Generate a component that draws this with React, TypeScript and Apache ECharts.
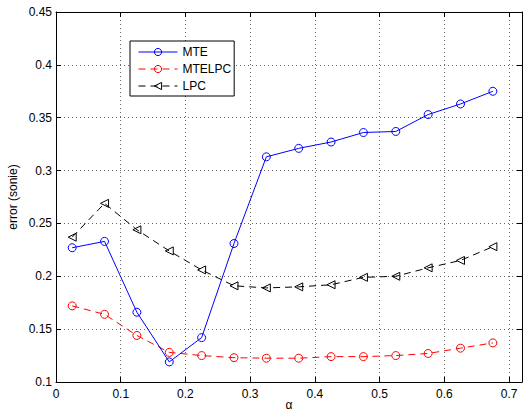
import React, { useEffect, useRef } from "react";
import * as echarts from "echarts";

const alphas = [0.025, 0.075, 0.125, 0.175, 0.225, 0.275, 0.325, 0.375, 0.425, 0.475, 0.525, 0.575, 0.625, 0.675];
const mte = [0.227, 0.233, 0.166, 0.119, 0.142, 0.231, 0.313, 0.321, 0.327, 0.336, 0.337, 0.353, 0.363, 0.375];
const mtelpc = [0.172, 0.164, 0.144, 0.128, 0.125, 0.123, 0.1225, 0.1225, 0.124, 0.124, 0.125, 0.127, 0.132, 0.137];
const lpc = [0.237, 0.269, 0.244, 0.224, 0.206, 0.191, 0.189, 0.19, 0.192, 0.199, 0.2, 0.208, 0.215, 0.228];

const FONT = "Liberation Sans, Arial, Helvetica, sans-serif";

function pairs(ys: number[]) {
  return alphas.map((x, i) => [x, ys[i]]);
}

export default function App() {
  const ref = useRef<HTMLDivElement>(null);
  useEffect(() => {
    if (!ref.current) return;
    const chart = echarts.init(ref.current, null, { renderer: "svg" });
    const tickStyle = { show: true, inside: true, length: 5, lineStyle: { color: "#000", width: 1 } };
    const lineAxis = { show: true, onZero: false, lineStyle: { color: "#000", width: 1 } };
    const grid = { show: true, lineStyle: { color: "#666", type: [1, 3], width: 1 } };
    chart.setOption({
      animation: false,
      backgroundColor: "#fff",
      textStyle: { fontFamily: FONT },
      grid: { left: 56, top: 12, right: 1, bottom: 29, containLabel: false, outerBoundsMode: "none" },
      legend: {
        orient: "vertical",
        left: 130,
        top: 41,
        padding: [5, 3, 4, 8],
        itemWidth: 39,
        itemHeight: 9,
        itemGap: 5,
        borderColor: "#000",
        borderWidth: 1,
        borderRadius: 0,
        backgroundColor: "#fff",
        lineStyle: { width: 1 },
        itemStyle: { borderWidth: 1 },
        textStyle: { fontFamily: FONT, fontSize: 12, color: "#000", lineHeight: 12 },
        data: ["MTE", "MTELPC", "LPC"],
      },
      xAxis: [
        {
          type: "value",
          min: 0,
          max: 0.72,
          interval: 0.1,
          name: "α",
          nameLocation: "middle",
          nameGap: 17,
          nameMoveOverlap: false,
          nameTextStyle: { fontFamily: FONT, fontSize: 12, color: "#000" },
          axisLine: lineAxis,
          axisTick: tickStyle,
          splitLine: grid,
          axisLabel: {
            color: "#000",
            fontFamily: FONT,
            fontSize: 12,
            margin: 6,
            formatter: (v: number) => (Math.abs(v * 10 - Math.round(v * 10)) < 1e-6 ? String(Math.round(v * 10) / 10) : ""),
          },
        },
        {
          type: "value",
          position: "top",
          min: 0,
          max: 0.72,
          interval: 0.1,
          axisLine: lineAxis,
          axisTick: tickStyle,
          splitLine: { show: false },
          axisLabel: { show: false },
        },
      ],
      yAxis: [
        {
          type: "value",
          min: 0.1,
          max: 0.45,
          interval: 0.05,
          name: "error (sonie)",
          nameLocation: "middle",
          nameGap: 37,
          nameMoveOverlap: false,
          nameTextStyle: { fontFamily: FONT, fontSize: 12, color: "#000" },
          axisLine: lineAxis,
          axisTick: tickStyle,
          splitLine: grid,
          axisLabel: { color: "#000", fontFamily: FONT, fontSize: 12, margin: 4 },
        },
        {
          type: "value",
          position: "right",
          min: 0.1,
          max: 0.45,
          interval: 0.05,
          axisLine: lineAxis,
          axisTick: tickStyle,
          splitLine: { show: false },
          axisLabel: { show: false },
        },
      ],
      series: [
        {
          name: "MTE",
          type: "line",
          data: pairs(mte),
          symbol: "circle",
          symbolSize: 8,
          lineStyle: { color: "#0000ff", width: 1 },
          itemStyle: { color: "rgba(0,0,0,0)", borderColor: "#0000ff", borderWidth: 1 },
          z: 4,
        },
        {
          name: "MTELPC",
          type: "line",
          data: pairs(mtelpc),
          symbol: "circle",
          symbolSize: 8,
          lineStyle: { color: "#ff0000", width: 1, type: [7, 5] },
          itemStyle: { color: "rgba(0,0,0,0)", borderColor: "#ff0000", borderWidth: 1 },
          z: 3,
        },
        {
          name: "LPC",
          type: "line",
          data: pairs(lpc),
          symbol: "triangle",
          symbolSize: 8,
          symbolRotate: 90,
          lineStyle: { color: "#000", width: 1, type: [7, 5] },
          itemStyle: { color: "rgba(0,0,0,0)", borderColor: "#000", borderWidth: 1 },
          z: 3,
        },
      ],
    });
    return () => chart.dispose();
  }, []);
  return <div ref={ref} style={{ position: "fixed", left: 0, top: 0, width: 523, height: 411 }} />;
}
